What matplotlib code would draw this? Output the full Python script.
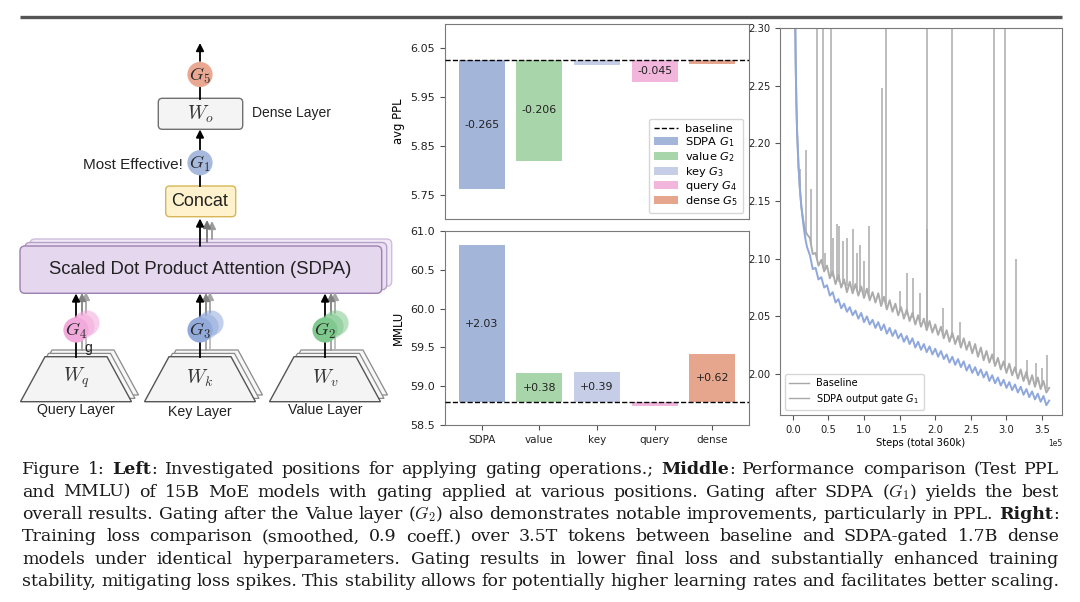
import numpy as np
import matplotlib
matplotlib.use('Agg')
import matplotlib.pyplot as plt
from matplotlib.patches import Circle, FancyBboxPatch, Polygon
from matplotlib.lines import Line2D

# ---- middle panel: 15B MoE, gate position vs test PPL / MMLU ----
positions = ['SDPA', 'value', 'key', 'query', 'dense']
gate_names = ['$G_1$', '$G_2$', '$G_3$', '$G_4$', '$G_5$']
ppl_baseline = 6.026
ppl_delta = [-0.265, -0.206, -0.010, -0.045, -0.008]
mmlu_baseline = 58.79
mmlu_delta = [2.03, 0.38, 0.39, -0.04, 0.62]
bar_colors = ['#a3b5d9', '#a9d5ab', '#c6cde6', '#f2b6dd', '#e6a68e']

# ---- right panel: smoothed training loss, 1.7B dense ----
early_steps = [2000, 3000, 4000, 5000, 6000, 8000, 10000, 12000, 14000, 16000, 18000, 20000]
base_early = [2.45, 2.33, 2.27, 2.235, 2.21, 2.18, 2.16, 2.145, 2.136, 2.128, 2.124, 2.121]
gate_early = [2.45, 2.33, 2.27, 2.235, 2.21, 2.18, 2.16, 2.145, 2.134, 2.124, 2.116, 2.110]
grid_steps = np.arange(24000, 360001, 4000)
base_loss = [2.118, 2.104, 2.105, 2.094, 2.099, 2.089, 2.094, 2.083, 2.089, 2.078,
             2.086, 2.075, 2.082, 2.071, 2.080, 2.070, 2.078, 2.068, 2.076, 2.066,
             2.074, 2.064, 2.071, 2.062, 2.070, 2.059, 2.067, 2.056, 2.064, 2.054,
             2.061, 2.051, 2.058, 2.048, 2.056, 2.046, 2.053, 2.043, 2.051, 2.041,
             2.048, 2.038, 2.046, 2.036, 2.043, 2.034, 2.041, 2.031, 2.038, 2.028,
             2.036, 2.026, 2.033, 2.023, 2.031, 2.021, 2.028, 2.018, 2.026, 2.015,
             2.023, 2.012, 2.020, 2.010, 2.017, 2.007, 2.014, 2.004, 2.011, 2.001,
             2.009, 1.999, 2.006, 1.996, 2.004, 1.994, 2.002, 1.991, 1.999, 1.989,
             1.997, 1.987, 1.994, 1.984, 1.988]
gate_loss = [2.103, 2.091, 2.092, 2.082, 2.084, 2.075, 2.077, 2.068, 2.071, 2.062,
             2.065, 2.057, 2.061, 2.054, 2.058, 2.051, 2.055, 2.048, 2.053, 2.045,
             2.050, 2.043, 2.047, 2.040, 2.045, 2.038, 2.043, 2.035, 2.040, 2.033,
             2.038, 2.031, 2.035, 2.028, 2.033, 2.026, 2.031, 2.023, 2.028, 2.021,
             2.026, 2.019, 2.024, 2.017, 2.022, 2.015, 2.020, 2.013, 2.017, 2.010,
             2.015, 2.008, 2.013, 2.006, 2.011, 2.003, 2.008, 2.001, 2.006, 1.999,
             2.004, 1.997, 2.002, 1.994, 1.999, 1.992, 1.997, 1.990, 1.995, 1.988,
             1.993, 1.986, 1.991, 1.984, 1.989, 1.982, 1.987, 1.980, 1.985, 1.978,
             1.983, 1.976, 1.981, 1.973, 1.977]
# baseline loss spikes: step, level before the spike, peak
spike_steps = [9800, 19200, 24900, 33300, 42600, 45000, 53400, 57000, 61800, 65000,
               70000, 76000, 84700, 90000, 95000, 100000, 107200, 124600, 130200, 150000,
               159700, 168100, 178000, 187800, 188600, 211100, 222900, 235000, 282300, 297300,
               313200, 329100, 342000, 350000, 357200]
spike_low = [2.162, 2.121, 2.112, 2.100, 2.093, 2.091, 2.086, 2.084, 2.082, 2.080,
             2.078, 2.076, 2.074, 2.072, 2.071, 2.070, 2.068, 2.063, 2.061, 2.055,
             2.051, 2.049, 2.046, 2.042, 2.042, 2.035, 2.031, 2.027, 2.011, 2.006,
             2.001, 1.996, 1.992, 1.990, 1.987]
spike_high = [2.178, 2.194, 2.160, 2.45, 2.45, 2.105, 2.45, 2.118, 2.130, 2.128,
              2.115, 2.118, 2.126, 2.105, 2.112, 2.098, 2.128, 2.248, 2.45, 2.072,
              2.0875, 2.083, 2.070, 2.126, 2.45, 2.057, 2.45, 2.045, 2.45, 2.45,
              2.0996, 2.012, 2.010, 2.005, 2.0166]

caption_lines = [
    "Figure 1: *Left*: Investigated positions for applying gating operations.; *Middle*: Performance comparison (Test PPL",
    "and MMLU) of 15B MoE models with gating applied at various positions. Gating after SDPA ($G_1$) yields the best",
    "overall results. Gating after the Value layer ($G_2$) also demonstrates notable improvements, particularly in PPL. *Right*:",
    "Training loss comparison (smoothed, 0.9 coeff.)  over 3.5T tokens between baseline and SDPA-gated 1.7B dense",
    "models under identical hyperparameters. Gating results in lower final loss and substantially enhanced training",
    "stability, mitigating loss spikes. This stability allows for potentially higher learning rates and facilitates better scaling.",
]

plt.rcParams['font.size'] = 7.5
plt.rcParams['axes.edgecolor'] = '#7a7a7a'
plt.rcParams['xtick.color'] = '#555555'
plt.rcParams['ytick.color'] = '#555555'
plt.rcParams['xtick.labelcolor'] = '#222222'
plt.rcParams['ytick.labelcolor'] = '#222222'

W, H = 1080, 602
fig = plt.figure(figsize=(W / 100, H / 100), dpi=100)


def px_axes(left, top, right, bottom):
    return fig.add_axes([left / W, 1 - bottom / H, (right - left) / W, (bottom - top) / H])


# ---------- overlay: diagram, rule, caption (pixel coordinates) ----------
ov = fig.add_axes([0, 0, 1, 1])
ov.set_xlim(0, W)
ov.set_ylim(H, 0)
ov.axis('off')

ov.plot([20, 1062], [17, 17], color='#555555', lw=2.4, solid_capstyle='butt')

sans = 'Liberation Sans'


def rbox(x0, y0, x1, y1, fc, ec, r=4, z=2):
    ov.add_patch(FancyBboxPatch((x0, y0), x1 - x0, y1 - y0,
                                boxstyle=f'round,pad=0,rounding_size={r}',
                                fc=fc, ec=ec, lw=1.0, zorder=z))


def arrow(x, y0, y1, color='k', z=3):
    ov.annotate('', xy=(x, y1), xytext=(x, y0),
                arrowprops=dict(arrowstyle='-|>,head_length=0.6,head_width=0.3',
                                color=color, lw=1.3, shrinkA=0, shrinkB=0), zorder=z)


def gate(cx, cy, label, fc, shadows=False):
    if shadows:
        for dx, dy in [(11, -7), (6, -3.5)]:
            ov.add_patch(Circle((cx + dx, cy + dy), 12.6, fc=fc, ec='none', alpha=0.55, zorder=4))
    ov.add_patch(Circle((cx, cy), 12.6, fc=fc, ec='none', zorder=5))
    ov.text(cx, cy + 1, label, ha='center', va='center', fontsize=13,
            math_fontfamily='cm', color='#2a2a2a', zorder=6)


# top column
cx = 200
arrow(cx, 61, 43)
gate(cx, 74.5, '$G_5$', '#eaa892')
ov.plot([cx, cx], [87, 98.5], color='k', lw=1.3, zorder=3)
rbox(158.3, 98.3, 242.7, 129.3, '#f4f4f4', '#707070')
ov.text(cx, 114, '$W_o$', ha='center', va='center', fontsize=14, math_fontfamily='cm', color='#333333')
ov.text(252, 113, 'Dense Layer', ha='left', va='center', fontsize=10, family=sans, color='#222222')
arrow(cx, 150, 129.5)
gate(cx, 162.7, '$G_1$', '#a7bade')
ov.text(183, 165, 'Most Effective!', ha='right', va='center', fontsize=11, family=sans, color='#222222')
ov.plot([cx, cx], [175.5, 186], color='k', lw=1.3, zorder=3)
rbox(165.7, 186, 235.7, 216.7, '#fff2cc', '#d6b656')
ov.text(cx, 201.5, 'Concat', ha='center', va='center', fontsize=13, family=sans, color='#222222')
arrow(212, 239, 221, color='#9a9a9a')
arrow(207, 242, 220, color='#777777')
arrow(cx, 246, 218.5)

# SDPA block with two stacked copies behind
for dx, dy, fc, ec in [(10, -7, '#f1eaf6', '#cfbddb'), (5, -3.5, '#ebe0f2', '#b7a0c7')]:
    rbox(20 + dx, 246 + dy, 381.7 + dx, 293.3 + dy, fc, ec, r=5)
rbox(20, 246, 381.7, 293.3, '#e4d7ee', '#9d7fb0', r=5)
ov.text(200, 270, 'Scaled Dot Product Attention (SDPA)', ha='center', va='center',
        fontsize=13.3, family=sans, color='#222222', zorder=3)

# q / k / v columns
cols = [(76, '$G_4$', '#f2a9dc', '$W_q$', 'Query Layer', 410),
        (200, '$G_3$', '#93abdb', '$W_k$', 'Key Layer', 412),
        (325, '$G_2$', '#80c98e', '$W_v$', 'Value Layer', 410)]
for x, g, gc, wl, name, ny in cols:
    for dx, dy in [(7, -6.7), (3.5, -3.3)]:
        ov.add_patch(Polygon([(x - 55.5 + dx, 401.7 + dy), (x + 55.5 + dx, 401.7 + dy),
                              (x + 31 + dx, 356.7 + dy), (x - 31 + dx, 356.7 + dy)],
                             closed=True, fc='#f7f7f7', ec='#8a8a8a', lw=0.9, zorder=2))
    ov.add_patch(Polygon([(x - 55.5, 401.7), (x + 55.5, 401.7), (x + 31, 356.7), (x - 31, 356.7)],
                         closed=True, fc='#f4f4f4', ec='#555555', lw=1.0, zorder=2))
    ov.text(x, 378, wl, ha='center', va='center', fontsize=14, math_fontfamily='cm', color='#333333')
    ov.text(x, ny, name, ha='center', va='center', fontsize=10.2, family=sans, color='#222222')
    for dx, c in [(10, '#b0b0b0'), (6, '#909090')]:
        ov.plot([x + dx, x + dx], [350, 336], color=c, lw=1.1, zorder=3)
    ov.plot([x, x], [356.7, 342], color='k', lw=1.3, zorder=3)
    gate(x, 330, g, gc, shadows=True)
    arrow(x + 10, 313, 292, color='#a5a5a5')
    arrow(x + 6, 315, 293, color='#808080')
    arrow(x, 317.5, 293.5)
ov.text(88, 348, 'g', ha='center', va='center', fontsize=10, family=sans, color='#222222', zorder=7)

# caption, justified between two margins
renderer = fig.canvas.get_renderer()
cap_left, cap_right = 22, 1059
for i, line in enumerate(caption_lines):
    y = 474.5 + i * 22.3
    words = []
    for word in line.split():
        parts = []
        for k, seg in enumerate(word.split('*')):
            if seg == '':
                continue
            t = ov.text(0, y, seg, fontsize=12.5, family='DejaVu Serif',
                        fontweight='bold' if k % 2 == 1 else 'normal',
                        math_fontfamily='cm', ha='left', va='baseline', color='#1a1a1a')
            parts.append((t, t.get_window_extent(renderer).width))
        words.append(parts)
    total = sum(w for parts in words for _, w in parts)
    gap = (cap_right - cap_left - total) / (len(words) - 1)
    x = cap_left
    for parts in words:
        for t, w in parts:
            t.set_x(x)
            x += w
        x += gap

# ---------- middle: avg PPL ----------
xs = np.arange(len(positions))
ax1 = px_axes(445, 24, 749, 219)
ax1.axhline(ppl_baseline, color='k', ls='--', lw=1.0, label='baseline', zorder=3)
for i in range(len(positions)):
    b = ax1.bar(xs[i], ppl_delta[i], bottom=ppl_baseline, width=0.8, color=bar_colors[i],
                label=f'{positions[i]} {gate_names[i]}')
    if abs(ppl_delta[i]) > 0.02:
        ax1.bar_label(b, labels=[f'{ppl_delta[i]:.3f}'], label_type='center', fontsize=7.9, color='#222222')
ax1.set_ylim(5.70, 6.10)
ax1.set_yticks([5.75, 5.85, 5.95, 6.05])
ax1.tick_params(axis='y', labelsize=8)
ax1.set_xticks([])
ax1.set_ylabel('avg PPL', fontsize=8.4)
ax1.legend(loc='lower right', fontsize=8.2, handlelength=2.1, labelspacing=0.08,
           borderpad=0.45, handletextpad=0.6)

# ---------- middle: MMLU ----------
ax2 = px_axes(445, 231, 749, 425)
ax2.axhline(mmlu_baseline, color='k', ls='--', lw=1.0, zorder=3)
for i in range(len(positions)):
    b = ax2.bar(xs[i], mmlu_delta[i], bottom=mmlu_baseline, width=0.8, color=bar_colors[i])
    if abs(mmlu_delta[i]) > 0.1:
        ax2.bar_label(b, labels=[f'+{mmlu_delta[i]:.2f}'], label_type='center', fontsize=7.9, color='#222222')
ax2.set_ylim(58.5, 61.0)
ax2.set_yticks([58.5, 59.0, 59.5, 60.0, 60.5, 61.0])
ax2.tick_params(axis='y', labelsize=8)
ax2.set_xticks(xs)
ax2.set_xticklabels(positions, fontsize=7.5)
ax2.set_ylabel('MMLU', fontsize=8.4)

# ---------- right: training loss ----------
ax3 = px_axes(780, 28, 1062, 415)
steps = np.concatenate([early_steps, grid_steps])
ax3.plot(steps, np.concatenate([base_early, base_loss]), color='#ababab', lw=1.4)
ax3.vlines(spike_steps, spike_low, spike_high, color='#ababab', lw=1.1)
ax3.plot(steps, np.concatenate([gate_early, gate_loss]), color='#8ea7dc', lw=1.4)
ax3.set_xlim(-18000, 378000)
ax3.set_ylim(1.9645, 2.30)
ax3.set_yticks([2.00, 2.05, 2.10, 2.15, 2.20, 2.25, 2.30])
ax3.tick_params(labelsize=7.2)
ax3.ticklabel_format(axis='x', style='sci', scilimits=(0, 0))
ax3.xaxis.get_offset_text().set_fontsize(5.5)
ax3.set_xlabel('Steps (total 360k)', fontsize=7.2, labelpad=2)
handles = [Line2D([], [], color='#a8a8a8', lw=1.0), Line2D([], [], color='#a8a8a8', lw=1.0)]
ax3.legend(handles, ['Baseline', 'SDPA output gate $G_1$'], loc='lower left', fontsize=7,
           labelspacing=0.35, borderpad=0.45)

fig.savefig('out.png', dpi=100)
